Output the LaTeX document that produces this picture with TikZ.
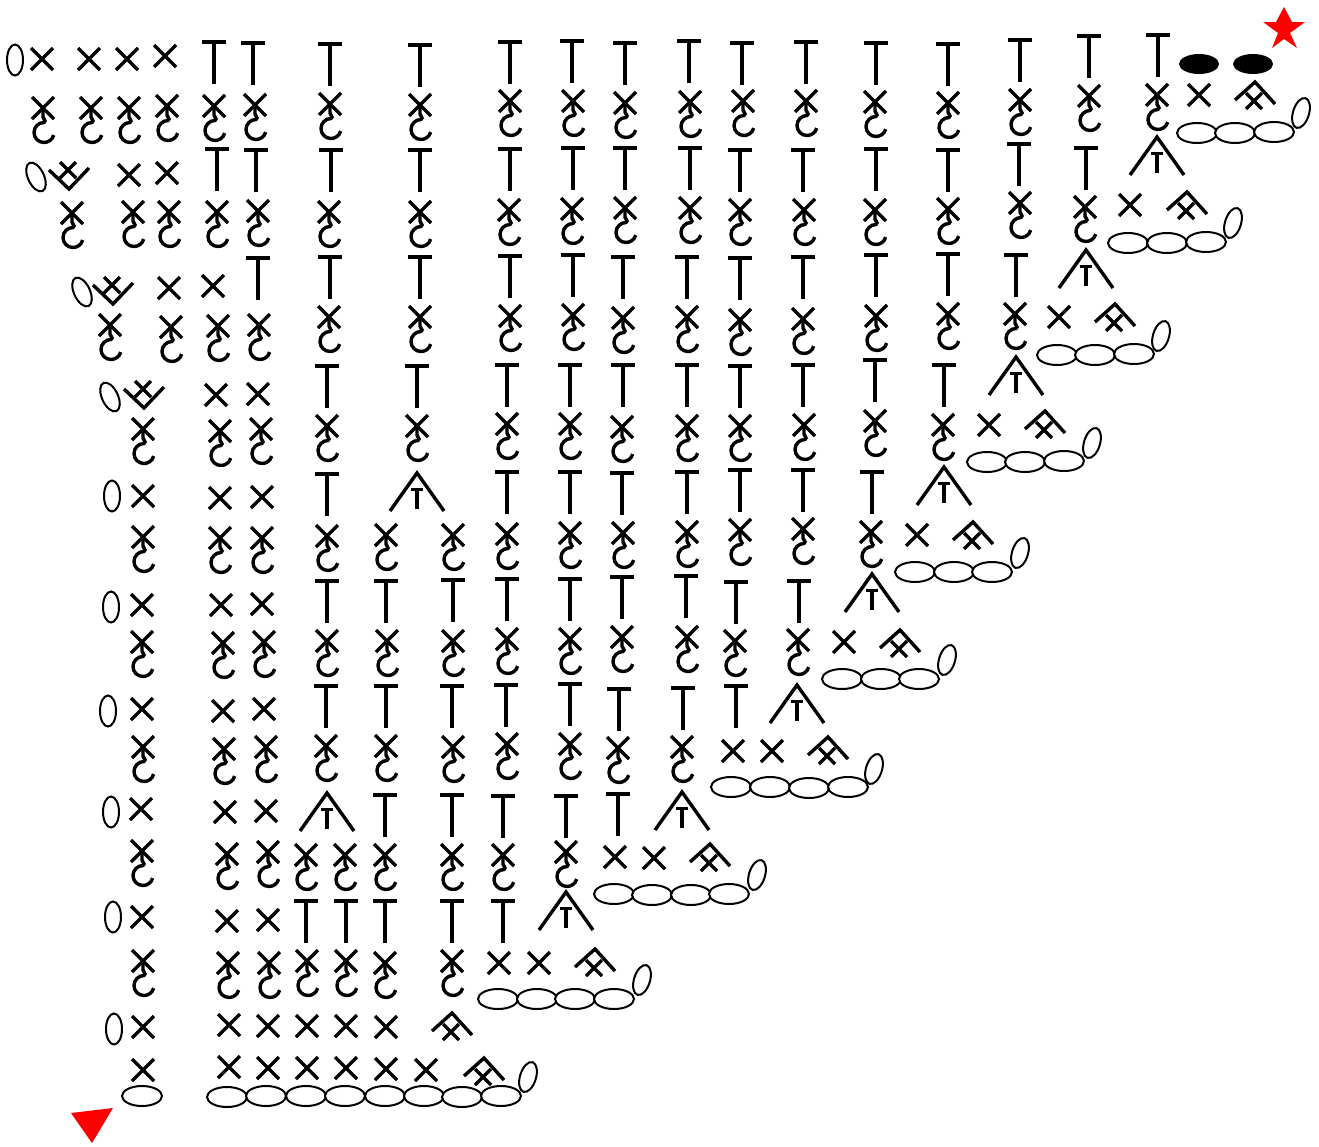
\documentclass[tikz,border=0pt]{standalone}
\tikzset{
  ink/.style={line width=3.4pt,black},
  thin oval/.style={line width=2pt,draw=black,fill=white},
}
\newcommand{\crX}[3][11]{\draw[ink] (#2-#1,#3-#1) -- (#2+#1,#3+#1) (#2-#1,#3+#1) -- (#2+#1,#3-#1);}
\newcommand{\crXC}[2]{\crX{#1}{#2}
  \draw[ink] (#1,#2) -- (#1,#2+9) -- (#1+2,#2+13) -- (#1+1,#2+14.5) arc[start angle=270,end angle=15,radius=10];}
\newcommand{\crT}[2]{\draw[ink] (#1,#2+44) -- (#1,#2+1);\draw[line width=4pt] (#1-12,#2+1.5) -- (#1+12,#2+1.5);}
\newcommand{\crTri}[2]{\draw[ink] (#1-27,#2+38) -- (#1,#2) -- (#1+27,#2+38);
  \draw[line width=3.6pt] (#1,#2+36) -- (#1,#2+16) (#1-6,#2+16.5) -- (#1+6,#2+16.5);}
\newcommand{\crHat}[2]{\draw[ink] (#1-20,#2+18) -- (#1,#2) -- (#1+20,#2+22);\crX[8]{#1-1}{#2+19}}
\newcommand{\crV}[2]{\draw[ink] (#1-20,#2-5) -- (#1,#2+14) -- (#1+20,#2-7);\crX[8]{#1-1}{#2-5}}
\newcommand{\crO}[3][0]{\draw[thin oval,rotate around={#1:(#2,#3)}] (#2,#3) ellipse[x radius=20,y radius=10];}
\newcommand{\crU}[3][0]{\draw[thin oval,rotate around={#1:(#2,#3)}] (#2,#3) ellipse[x radius=8,y radius=15.5];}
\begin{document}
\begin{tikzpicture}[x=1pt,y=-1pt]
\useasboundingbox (0,0) rectangle (1319,1146);
% plain crosses
\foreach \a/\b in {42/59,89/59,127/59,165/56,1199/95,
 129/175,167/173,1130/205,
 169/288,213/286,1059/317,
 216/395,258/394,989/425,
 143/496,220/498,262/497,917/535,
 142/605,221/605,262/604,844/642,
 142/709,223/711,264/709,733/751,772/751,
 141/809,225/812,266/811,615/857,654/858,
 142/917,227/921,268/920,499/963,539/963,
 143/1027,229/1025,268/1026,307/1026,346/1026,386/1027,
 143/1070,229/1067,268/1068,307/1068,346/1068,386/1069,426/1070}{\crX{\a}{\b}}
% crosses with hook
\foreach \a/\b in {43/108,91/108,129/108,167/106,214/106,255/105,330/104,420/105,510/101,573/101,625/103,690/102,743/101,806/101,875/102,948/103,1020/100,1089/96,1157/95,
 72/213,133/212,169/212,217/212,258/211,329/212,420/212,509/210,572/209,625/208,690/208,740/210,804/210,875/210,948/209,1020/203,1085/207,
 110/325,171/327,218/326,259/325,329/317,420/317,510/316,573/315,623/318,687/317,740/320,803/319,876/316,948/314,1015/314,
 143/429,220/431,261/429,327/426,417/426,507/424,570/424,622/427,687/426,740/426,804/425,875/421,943/425,
 143/537,220/538,262/538,327/536,386/535,453/535,507/534,570/533,623/533,687/532,740/530,803/529,871/532,
 142/642,223/643,264/642,327/641,387/641,453/641,507/639,570/639,622/637,687/637,735/641,798/640,
 143/747,224/749,266/747,326/746,386/746,453/747,507/744,570/744,618/748,682/747,
 142/851,227/854,268/852,306/855,345/855,385/855,452/855,503/855,566/852,
 143/961,228/963,269/963,307/961,346/961,385/963,452/961}{\crXC{\a}{\b}}
% tall stitches
\foreach \a/\b in {214/40,253/41,330/42,420/43,510/40,572/39,625/41,689/39,742/41,806/40,876/41,948/42,1020/38,1089/34,1158/33,
 217/147,256/148,331/148,420/148,510/147,573/146,625/146,690/146,740/148,803/148,876/147,948/148,1019/142,1086/146,
 258/256,330/255,420/255,510/254,573/253,623/255,687/255,740/256,803/255,876/253,948/252,1016/253,
 327/364,417/364,507/363,570/363,623/363,687/363,740/364,803/363,875/358,944/363,
 327/472,507/470,570/470,622/471,687/470,740/468,803/468,872/470,
 327/579,386/579,453/578,507/577,570/577,622/575,686/574,736/580,799/579,
 326/684,386/684,452/684,506/683,570/682,619/687,683/686,736/684,
 385/793,452/793,503/794,566/794,618/792,
 306/899,346/899,385/899,452/899,503/899}{\crT{\a}{\b}}
% triangles
\foreach \a/\b in {1157/137,1086/250,1016/357,417/473,944/467,872/574,797/685,327/793,682/792,566/892}{\crTri{\a}{\b}}
% hats
\foreach \a/\b in {1255/82,1187/192,1115/304,1045/411,973/522,900/630,828/737,710/844,595/949,452/1013,484/1058}{\crHat{\a}{\b}}
% v stitches
\foreach \a/\b in {69/175,113/290,144/394}{\crV{\a}{\b}}
% chain ovals
\foreach \a/\b in {1197/133,1235/133,1274/132,
 1128/243,1167/243,1206/242,
 1057/355,1095/355,1134/354,
 987/462,1025/462,1064/461,
 915/572,954/572,992/572,
 842/679,881/679,919/679,
 731/787,770/787,809/788,848/787,
 614/894,652/895,691/895,729/894,
 498/999,537/999,575/999,614/999,
 142/1096,227/1097,266/1096,306/1096,345/1096,385/1096,424/1096,462/1097,501/1096}{\crO{\a}{\b}}
% upright ovals
\foreach \a/\b in {15/60,112/496,111/607,108/711,111/812,113/917,114/1029}{\crU{\a}{\b}}
% leaning ovals
\foreach \a/\b in {36/177,82/292,110/397}{\crU[25]{\a}{\b}}
\foreach \a/\b in {1301/113,1233/223,1161/336,1092/443,1020/553,947/660,874/769,757/875,642/980,528/1077}{\crU[-17]{\a}{\b}}
% filled
\fill (1199,64) ellipse[x radius=20,y radius=10];
\fill (1253,64) ellipse[x radius=20,y radius=10];
% markers
\fill[red] (1284,7) -- (1292,22) -- (1305,22) -- (1290,33) -- (1297,48) -- (1284,39) -- (1272,48) -- (1278,33) -- (1263,22) -- (1276,22) -- cycle;
\fill[red] (71,1113) -- (113,1108) -- (92,1143) -- cycle;
\end{tikzpicture}
\end{document}
